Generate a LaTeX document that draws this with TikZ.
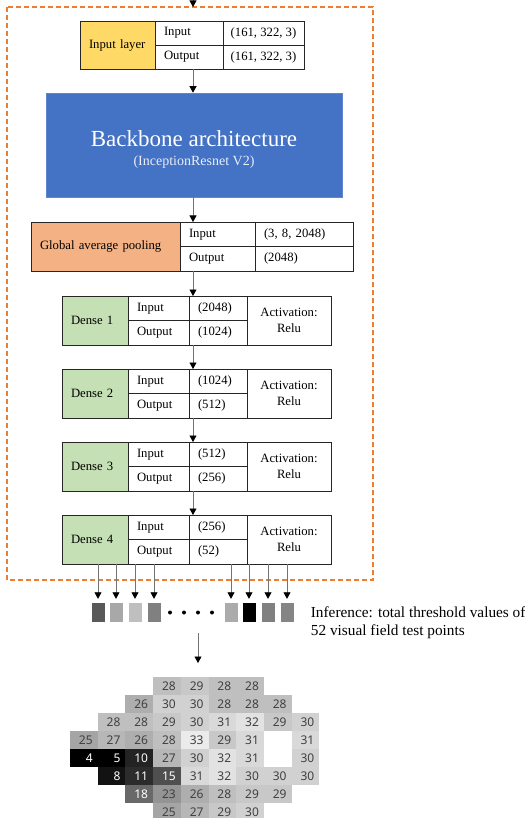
\documentclass[tikz,border=0pt]{standalone}
\usepackage{fontspec}
\setmainfont{Liberation Serif}
\newfontfamily\gridfont{Noto Sans}
\usetikzlibrary{positioning, arrows.meta}

\definecolor{inputyellow}{HTML}{FFD966}
\definecolor{poolorange}{HTML}{F4B183}
\definecolor{densegreen}{HTML}{C5E0B4}
\definecolor{backboneblue}{HTML}{4472C4}
\definecolor{frameorange}{HTML}{ED7D31}

\newcommand{\cellfont}{\fontsize{12.7}{16}\selectfont}

\begin{document}
\begin{tikzpicture}[
    x=1pt, y=-1pt,
    % --- Styles ---
    cell/.style={
        rectangle,
        draw=black!85,
        line width=0.9pt,
        inner xsep=9pt,
        inner ysep=0pt,
        outer sep=0pt,
        anchor=north west,
        align=left,
        font=\cellfont
    },
    backbone/.style={
        rectangle,
        fill=backboneblue,
        draw=backboneblue!85!white,
        line width=0.6pt,
        minimum width=296pt,
        minimum height=104pt,
        inner sep=0pt
    },
    bbtext/.style={
        align=center,
        inner sep=0pt,
        text=white,
        font=\fontsize{14}{19}\selectfont
    },
    outsq/.style={
        rectangle,
        minimum width=13pt,
        minimum height=19pt,
        inner sep=0pt
    },
    dotmark/.style={
        circle,
        fill=black,
        minimum size=4pt,
        inner sep=0pt
    },
    infotext/.style={
        align=left,
        inner sep=0pt,
        font=\fontsize{15.3}{18}\selectfont
    },
    vfcell/.style={
        rectangle,
        anchor=north west,
        minimum height=18pt,
        text width=17.7pt,
        inner xsep=5pt,
        inner ysep=0pt,
        outer sep=0pt,
        align=right,
        font={\gridfont\fontsize{12}{14}\selectfont}
    },
    framebox/.style={
        draw=frameorange,
        line width=1.4pt,
        dash pattern=on 5pt off 3pt
    },
    arrow/.style={
        -{Triangle[length=6.5pt, width=7pt, color=black]},
        draw=black!55,
        line width=0.8pt
    }
]

\useasboundingbox (0,0) rectangle (524,818);

% --- Nodes (relative positioning) ---
\node[cell, fill=inputyellow, text width=57pt, minimum height=48pt] (inlayer) at (80,21) {Input layer};
\node[cell, text width=50pt, minimum height=24pt] (inlab1) at (inlayer.north east) {Input};
\node[cell, align=center, inner xsep=0pt, minimum width=81pt, minimum height=24pt] (inval1) at (inlab1.north east) {(161, 322, 3)};
\node[cell, text width=50pt, minimum height=24pt] (inlab2) at (inlab1.south west) {Output};
\node[cell, align=center, inner xsep=0pt, minimum width=81pt, minimum height=24pt] (inval2) at (inlab2.north east) {(161, 322, 3)};

\node[backbone] (backbone) at (194,145) {};
\node[bbtext] (bbtitle) at ([yshift=-4.2pt]backbone.center)
    {{\fontsize{23}{19}\selectfont Backbone architecture}\\
     \textcolor{white!88!backboneblue}{(InceptionResnet V2)}};

\node[cell, fill=poolorange, text width=131pt, minimum height=49pt] (gap) at (31,222) {Global average pooling};
\node[cell, text width=57pt, minimum height=24.5pt] (gaplab1) at (gap.north east) {Input};
\node[cell, text width=80pt, minimum height=24.5pt] (gapval1) at (gaplab1.north east) {(3, 8, 2048)};
\node[cell, text width=57pt, minimum height=24.5pt] (gaplab2) at (gaplab1.south west) {Output};
\node[cell, text width=80pt, minimum height=24.5pt] (gapval2) at (gaplab2.north east) {(2048)};

\foreach \i/\sizein/\sizeout [count=\k from 0] in {1/2048/1024, 2/1024/512, 3/512/256, 4/256/52} {
    \node[cell, fill=densegreen, text width=48pt, minimum height=49pt] (dense\i) at (62,{296+73*\k}) {Dense \i};
    \node[cell, text width=43pt, minimum height=24.5pt] (dense\i-lab1) at (dense\i.north east) {Input};
    \node[cell, text width=40pt, minimum height=24.5pt] (dense\i-val1) at (dense\i-lab1.north east) {(\sizein)};
    \node[cell, text width=43pt, minimum height=24.5pt] (dense\i-lab2) at (dense\i-lab1.south west) {Output};
    \node[cell, text width=40pt, minimum height=24.5pt] (dense\i-val2) at (dense\i-lab2.north east) {(\sizeout)};
    \node[cell, align=center, text width=66pt, minimum height=49pt] (dense\i-act) at (dense\i-val1.north east) {Activation:\\Relu};
}

% dashed frame round the network
\coordinate (frame-nw) at (7,7);
\coordinate (frame-se) at (373,580);
\draw[framebox] (frame-nw) rectangle (frame-se);

% outputs of the last layer
\foreach \x/\dark [count=\k] in {98/65, 116/34, 135/25, 154/50, 231/33, 249/100, 268/50, 287/48} {
    \node[outsq, fill=black!\dark] (sq\k) at (\x,612.5) {};
}
\foreach \x [count=\k] in {170,184,198,212} {
    \node[dotmark] (dot\k) at (\x,612.5) {};
}
\node[infotext, anchor=north west] (inference) at ([xshift=17pt, yshift=-3.5pt]sq8.north east)
    {Inference: total threshold values of\\52 visual field test points};

% visual field map
\foreach \r/\s/\vals in {0/3/{28,29,28,28}, 1/2/{26,30,30,28,28,28},
        2/1/{28,28,29,30,31,32,29,30}, 3/0/{25,27,26,28,33,29,31,99,31},
        4/0/{4,5,10,27,30,32,31,99,30}, 5/1/{8,11,15,31,32,30,30,30},
        6/2/{18,23,26,28,29,29}, 7/3/{25,27,29,30}} {
    \foreach \v [count=\c from \s] in \vals {
        \pgfmathsetmacro\tone{min(100,max(0,3.4*\v-20.2))}
        \ifnum\v<20 \def\ink{white}\else\def\ink{black!75}\fi
        \ifnum\v=99 \def\celltext{}\else\def\celltext{\v}\fi
        \node[vfcell, fill=white!\tone!black, text=\ink] (c-\r-\c) at ({70+27.7*\c},{677+18*\r}) {\celltext};
    }
}

% --- Arrows ---
\coordinate (spine) at (193,0);
\coordinate (feed) at (193,-12);
\draw[arrow] (feed) -- (spine |- frame-nw);
\draw[arrow] (spine |- inlab2.south) -- (spine |- backbone.north);
\draw[arrow] (spine |- backbone.south) -- (spine |- gaplab1.north);
\draw[arrow] (spine |- gaplab2.south) -- (spine |- dense1.north);
\draw[arrow] (spine |- dense1.south) -- (spine |- dense2.north);
\draw[arrow] (spine |- dense2.south) -- (spine |- dense3.north);
\draw[arrow] (spine |- dense3.south) -- (spine |- dense4.north);
\foreach \k in {1,...,8} {
    \draw[arrow, shorten >=4pt] (sq\k.north |- dense4.south) -- (sq\k.north);
}
\draw[arrow, shorten <=20pt, shorten >=14pt] (dot3.center) -- (dot3.center |- c-0-4.north);

\end{tikzpicture}
\end{document}
